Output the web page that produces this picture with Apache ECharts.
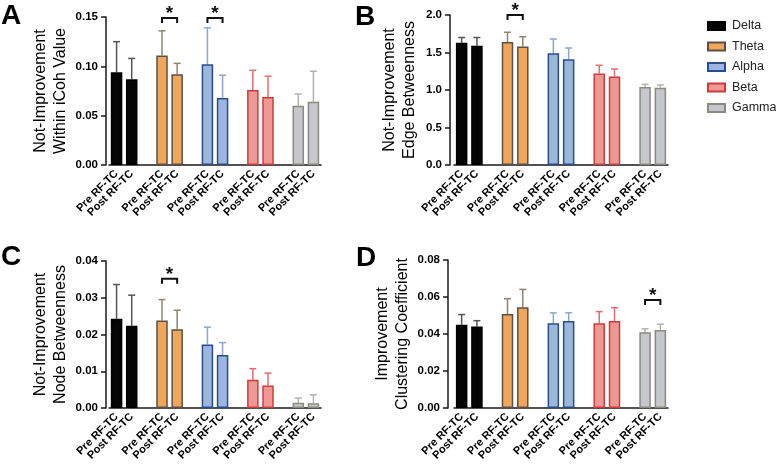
<!DOCTYPE html>
<html lang="en">
<head>
<meta charset="UTF-8">
<title>RF-TC network metrics</title>
<script src="https://cdn.jsdelivr.net/npm/echarts@6/dist/echarts.min.js"></script>
<style>
    body { margin: 0; background: #fff; }
    #main { width: 776px; height: 466px; }
</style>
</head>
<body>
<div id="main"></div>
<script>
const bands = ['Delta', 'Theta', 'Alpha', 'Beta', 'Gamma'];
const conditions = ['Pre RF-TC', 'Post RF-TC'];

// values per bar, order: Delta pre, Delta post, Theta pre, Theta post, ...
// A - Not-Improvement, Within iCoh Value
const iCohMean = [0.094, 0.087, 0.111, 0.092, 0.102, 0.068, 0.076, 0.069, 0.060, 0.064];
const iCohSd   = [0.031, 0.021, 0.025, 0.011, 0.037, 0.023, 0.020, 0.021, 0.012, 0.031];
const iCohSig  = ['Theta', 'Alpha'];
const iCohSigY = [0.149, 0.149];

// B - Not-Improvement, Edge Betweenness
const edgeMean = [1.63, 1.59, 1.64, 1.58, 1.49, 1.41, 1.22, 1.18, 1.04, 1.03];
const edgeSd   = [0.07, 0.11, 0.13, 0.13, 0.19, 0.15, 0.11, 0.10, 0.036, 0.037];
const edgeSig  = ['Theta'];
const edgeSigY = [2.0];

// C - Not-Improvement, Node Betweenness
const nodeMean = [0.0243, 0.0224, 0.0238, 0.0214, 0.0173, 0.0144, 0.0077, 0.0061, 0.0014, 0.0013];
const nodeSd   = [0.0093, 0.0083, 0.0057, 0.0052, 0.0047, 0.0034, 0.0030, 0.0034, 0.0013, 0.0023];
const nodeSig  = ['Theta'];
const nodeSigY = [0.0352];

// D - Improvement, Clustering Coefficient
const clusMean = [0.045, 0.044, 0.0508, 0.0544, 0.0458, 0.047, 0.0458, 0.047, 0.041, 0.0422];
const clusSd   = [0.0055, 0.0032, 0.0083, 0.0097, 0.0056, 0.0045, 0.0063, 0.0072, 0.0018, 0.0031];
const clusSig  = ['Gamma'];
const clusSigY = [0.0584];

const fills   = ['#050505', '#F2A65A', '#9DB6DB', '#EE9896', '#C4C7CB'];
const borders = ['#000000', '#5A5246', '#264E8F', '#D33A3A', '#8C897E'];
const errCols = ['#555555', '#8F8470', '#8AA6CF', '#E06E6E', '#B3B3AB'];
const font = 'Liberation Sans, Arial, Helvetica, sans-serif';
const axisCol = '#1a1a1a';

// 3 slots per band: pre, post, spacer (no spacer after the last band)
const xKeys = [];
bands.forEach((b, i) => {
    conditions.forEach(c => xKeys.push(b + '|' + c));
    if (i < bands.length - 1) xKeys.push('gap' + i);
});
const isBar = i => i % 3 !== 2;

const panels = [
    { mean: iCohMean, sd: iCohSd, sig: iCohSig, sigY: iCohSigY, max: 0.15, step: 0.05, dec: 2,
      name: 'Not-Improvement\nWithin iCoh Value', gap: 35, offset: 3,
      grid: { left: 109, top: 17, width: 212, height: 148 } },
    { mean: edgeMean, sd: edgeSd, sig: edgeSig, sigY: edgeSigY, max: 2.0, step: 0.5, dec: 1,
      name: 'Not-Improvement\nEdge Betweenness', gap: 30, offset: 4,
      grid: { left: 454, top: 15, width: 214, height: 150 } },
    { mean: nodeMean, sd: nodeSd, sig: nodeSig, sigY: nodeSigY, max: 0.04, step: 0.01, dec: 2,
      name: 'Not-Improvement\nNode Betweenness', gap: 35, offset: 3,
      grid: { left: 109, top: 261, width: 212, height: 147 } },
    { mean: clusMean, sd: clusSd, sig: clusSig, sigY: clusSigY, max: 0.08, step: 0.02, dec: 2,
      name: 'Improvement\nClustering Coefficient', gap: 35, offset: 6,
      grid: { left: 454, top: 260, width: 214, height: 148 } }
];

const grids = [], xAxes = [], yAxes = [], series = [];

panels.forEach((p, g) => {
    grids.push(p.grid);
    xAxes.push({
        type: 'category', gridIndex: g, data: xKeys,
        axisLine: { lineStyle: { color: axisCol, width: 1.5 } },
        axisTick: { alignWithLabel: true, length: 5, interval: i => isBar(i), lineStyle: { color: axisCol, width: 1.5 } },
        axisLabel: {
            interval: 0, rotate: 45, margin: 7, fontSize: 11, fontWeight: 'bold',
            color: '#000', fontFamily: font,
            formatter: v => v.indexOf('|') > 0 ? v.split('|')[1] : ''
        }
    });
    yAxes.push({
        type: 'value', gridIndex: g, min: 0, max: p.max, interval: p.step, offset: p.offset,
        name: p.name, nameLocation: 'middle', nameGap: p.gap, nameRotate: 90,
        nameTextStyle: { fontSize: 16, lineHeight: 20, color: '#000', fontFamily: font },
        axisLine: { show: true, lineStyle: { color: axisCol, width: 1.5 } },
        axisTick: { show: true, length: 5, lineStyle: { color: axisCol, width: 1.5 } },
        splitLine: { show: false },
        axisLabel: { fontSize: 11.5, fontWeight: 'bold', color: '#000', fontFamily: font, margin: 8,
                     formatter: v => v.toFixed(p.dec) }
    });

    // error bars (upper SD only), under the bars
    series.push({
        type: 'custom', xAxisIndex: g, yAxisIndex: g, z: 2, silent: true,
        data: p.mean.map((m, j) => [Math.floor(j / 2) * 3 + j % 2, m, m + p.sd[j], Math.floor(j / 2)]),
        encode: { x: 0, y: [1, 2] },
        renderItem: (params, api) => {
            const x = api.value(0);
            const lo = api.coord([x, api.value(1)]);
            const hi = api.coord([x, api.value(2)]);
            const c = errCols[api.value(3)];
            return {
                type: 'group', children: [
                    { type: 'line', shape: { x1: lo[0], y1: lo[1], x2: hi[0], y2: hi[1] }, style: { stroke: c, lineWidth: 1.5 } },
                    { type: 'line', shape: { x1: hi[0] - 3.5, y1: hi[1], x2: hi[0] + 3.5, y2: hi[1] }, style: { stroke: c, lineWidth: 1.5 } }
                ]
            };
        }
    });

    bands.forEach((b, bi) => {
        series.push({
            type: 'bar', name: b, xAxisIndex: g, yAxisIndex: g, stack: 'p' + g,
            barWidth: 11.5, z: 3, silent: true,
            itemStyle: { color: fills[bi], borderColor: borders[bi], borderWidth: 1.5 },
            data: xKeys.map((k, i) => (Math.floor(i / 3) === bi && isBar(i)) ? p.mean[bi * 2 + i % 3] : '-')
        });
    });

    // significance brackets
    series.push({
        type: 'custom', xAxisIndex: g, yAxisIndex: g, z: 4, silent: true,
        data: p.sig.map((b, k) => [bands.indexOf(b) * 3, bands.indexOf(b) * 3 + 1, p.sigY[k]]),
        encode: { x: [0, 1], y: 2 },
        renderItem: (params, api) => {
            const a = api.coord([api.value(0), api.value(2)]);
            const c = api.coord([api.value(1), api.value(2)]);
            return {
                type: 'group', children: [
                    { type: 'polyline', shape: { points: [[a[0], a[1] + 5], a, c, [c[0], c[1] + 5]] },
                      style: { stroke: '#111', lineWidth: 2, fill: null } },
                    { type: 'text', style: { text: '*', x: (a[0] + c[0]) / 2, y: a[1] - 4,
                      align: 'center', verticalAlign: 'middle', fill: '#111',
                      font: 'bold 19px ' + font } }
                ]
            };
        }
    });
});

const letters = [['A', 1, 2], ['B', 355, 3], ['C', 1, 243], ['D', 356, 244]];

const chart = echarts.init(document.getElementById('main'));
chart.setOption({
    animation: false,
    grid: grids,
    xAxis: xAxes,
    yAxis: yAxes,
    series: series,
    legend: {
        data: bands, orient: 'vertical', left: 702, top: 14, icon: 'rect',
        itemWidth: 17, itemHeight: 8, itemGap: 6.5, selectedMode: false,
        textStyle: { fontSize: 12.5, lineHeight: 14, color: '#222', fontFamily: font, padding: [0, 0, 0, 2] }
    },
    graphic: letters.map(l => ({
        type: 'text', left: l[1], top: l[2],
        style: { text: l[0], font: 'bold 28px ' + font, fill: '#000' }
    }))
});
</script>
</body>
</html>
